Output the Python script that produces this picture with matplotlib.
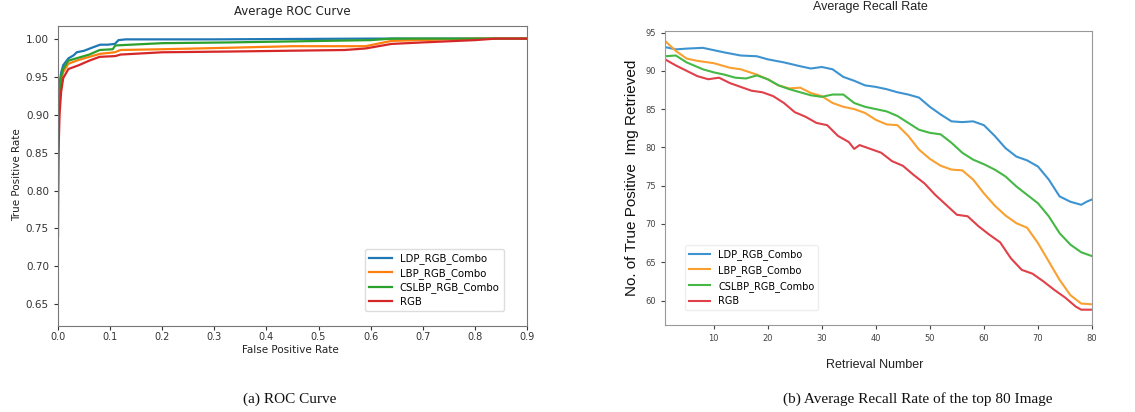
import matplotlib
matplotlib.use("Agg")
import matplotlib.pyplot as plt

# ---- ROC data ----
fpr_ldp = [0.0, 0.001, 0.003, 0.006, 0.01, 0.02, 0.03, 0.036, 0.05, 0.065, 0.081, 0.095, 0.109, 0.116, 0.13, 0.3, 0.6, 0.9]
tpr_ldp = [0.86, 0.91, 0.94, 0.955, 0.965, 0.974, 0.978, 0.982, 0.984, 0.988, 0.992, 0.992, 0.993, 0.998, 0.999, 0.999, 1.0, 1.0]

fpr_lbp = [0.0, 0.001, 0.003, 0.006, 0.01, 0.02, 0.04, 0.06, 0.081, 0.109, 0.12, 0.2, 0.33, 0.45, 0.59, 0.64, 0.8, 0.9]
tpr_lbp = [0.8, 0.88, 0.92, 0.945, 0.956, 0.967, 0.972, 0.976, 0.980, 0.982, 0.985, 0.986, 0.988, 0.990, 0.990, 0.997, 1.0, 1.0]

fpr_cslbp = [0.0, 0.001, 0.003, 0.006, 0.01, 0.02, 0.04, 0.06, 0.08, 0.105, 0.11, 0.2, 0.33, 0.6, 0.64, 0.9]
tpr_cslbp = [0.84, 0.9, 0.93, 0.95, 0.96, 0.971, 0.975, 0.979, 0.985, 0.986, 0.991, 0.994, 0.995, 0.998, 1.0, 1.0]

fpr_rgb = [0.0, 0.001, 0.003, 0.006, 0.01, 0.02, 0.04, 0.06, 0.08, 0.11, 0.12, 0.2, 0.33, 0.55, 0.59, 0.64, 0.7, 0.8, 0.84, 0.9]
tpr_rgb = [0.74, 0.85, 0.9, 0.93, 0.948, 0.96, 0.965, 0.971, 0.976, 0.977, 0.979, 0.982, 0.983, 0.985, 0.987, 0.993, 0.995, 0.998, 1.0, 1.0]

# ---- Recall data ----
n_ldp = [1, 3, 5, 8, 10, 12, 15, 18, 20, 23, 26, 28, 30, 32, 34, 36, 38, 40, 42, 44, 46, 48, 50, 52, 54,
         56, 58, 60, 62, 64, 66, 68, 70, 72, 74, 76, 78, 79, 80]
r_ldp = [93.1, 92.8, 92.9, 93.0, 92.7, 92.4, 92.0, 91.9, 91.5, 91.1, 90.6, 90.3, 90.5, 90.2, 89.2, 88.7,
         88.1, 87.9, 87.6, 87.2, 86.9, 86.5, 85.3, 84.3, 83.4, 83.3, 83.4, 82.9, 81.5, 79.9, 78.8, 78.3,
         77.5, 75.8, 73.6, 72.9, 72.5, 72.9, 73.2]

n_lbp = [1, 3, 5, 7, 10, 13, 15, 18, 20, 22, 24, 26, 28, 30, 32, 34, 36, 38, 40, 42, 44, 46, 48, 50, 52,
         54, 56, 58, 60, 62, 64, 66, 68, 70, 72, 74, 76, 78, 80]
r_lbp = [93.9, 92.6, 91.6, 91.3, 91.0, 90.4, 90.2, 89.5, 88.9, 88.1, 87.7, 87.8, 87.1, 86.7, 85.8, 85.3,
         85.0, 84.5, 83.6, 83.0, 82.9, 81.5, 79.7, 78.5, 77.6, 77.1, 77.0, 75.8, 74.0, 72.4, 71.1, 70.1,
         69.5, 67.5, 65.1, 62.7, 60.7, 59.6, 59.5]

n_cslbp = [1, 3, 5, 8, 10, 12, 14, 16, 18, 20, 22, 24, 26, 28, 30, 32, 34, 36, 38, 40, 42, 44, 46, 48, 50,
           52, 54, 56, 58, 60, 62, 64, 66, 68, 70, 72, 74, 76, 78, 80]
r_cslbp = [91.9, 92.0, 91.1, 90.2, 89.8, 89.5, 89.1, 89.0, 89.4, 88.9, 88.1, 87.6, 87.2, 86.8, 86.6, 86.9,
           86.9, 85.8, 85.3, 85.0, 84.7, 84.1, 83.2, 82.3, 81.9, 81.7, 80.6, 79.3, 78.4, 77.8, 77.1, 76.2,
           74.9, 73.8, 72.7, 71.0, 68.8, 67.3, 66.3, 65.8]

n_rgb = [1, 3, 5, 7, 9, 11, 13, 15, 17, 19, 21, 23, 25, 27, 29, 31, 33, 35, 36, 37, 39, 41, 43, 45, 47,
         49, 51, 53, 55, 57, 59, 61, 63, 65, 67, 69, 71, 73, 75, 77, 78, 80]
r_rgb = [91.5, 90.7, 90.0, 89.3, 88.9, 89.1, 88.4, 87.9, 87.4, 87.2, 86.7, 85.8, 84.6, 84.0, 83.2, 82.9,
         81.5, 80.7, 79.8, 80.3, 79.8, 79.3, 78.2, 77.6, 76.4, 75.3, 73.8, 72.5, 71.2, 71.0, 69.7, 68.6,
         67.6, 65.5, 64.0, 63.5, 62.5, 61.4, 60.4, 59.2, 58.8, 58.8]

labels = ['LDP_RGB_Combo', 'LBP_RGB_Combo', 'CSLBP_RGB_Combo', 'RGB']

W, H = 1135, 412
fig = plt.figure(figsize=(W / 100, H / 100), dpi=100)

def px(x, y):
    return x / W, 1 - y / H

# ---------- left: ROC ----------
ax1 = fig.add_axes([58 / W, 1 - 325.7 / H, 469 / W, 300 / H])
ax1.plot(fpr_ldp, tpr_ldp, color='#1f77b4', linewidth=1.6, label=labels[0])
ax1.plot(fpr_lbp, tpr_lbp, color='#ff7f0e', linewidth=1.6, label=labels[1])
ax1.plot(fpr_cslbp, tpr_cslbp, color='#2ca02c', linewidth=1.6, label=labels[2])
ax1.plot(fpr_rgb, tpr_rgb, color='#d62728', linewidth=1.6, label=labels[3])
ax1.set_xlim(0, 0.9)
ax1.set_ylim(0.622, 1.017)
ax1.set_xticks([0.0, 0.1, 0.2, 0.3, 0.4, 0.5, 0.6, 0.7, 0.8, 0.9])
ax1.set_yticks([0.65, 0.70, 0.75, 0.80, 0.85, 0.90, 0.95, 1.00])
ax1.tick_params(labelsize=7.5, colors='#333333', length=3)
ax1.tick_params(axis='x', labelsize=7, pad=1.5)
for s in ax1.spines.values():
    s.set_color('#777777')
ax1.legend(loc='lower right', bbox_to_anchor=(0.95, 0.05), fontsize=7.3, labelspacing=0.35,
           handlelength=2.2, borderaxespad=0.0, framealpha=1, edgecolor='#dddddd')
fig.text(*px(292, 12), 'Average ROC Curve', ha='center', va='center', fontsize=8.5, color='#222222')
fig.text(*px(17, 175), 'True Positive Rate', ha='center', va='center', rotation=90, fontsize=7.5, color='#222222')
fig.text(*px(290, 350), 'False Positive Rate', ha='center', va='center', fontsize=7.5, color='#222222')

# ---------- right: recall ----------
ax2 = fig.add_axes([665 / W, 1 - 325 / H, 427 / W, 294 / H])
ax2.plot(n_ldp, r_ldp, color='#3d93d0', linewidth=1.5, label=labels[0])
ax2.plot(n_lbp, r_lbp, color='#f9a030', linewidth=1.5, label=labels[1])
ax2.plot(n_cslbp, r_cslbp, color='#45b845', linewidth=1.5, label=labels[2])
ax2.plot(n_rgb, r_rgb, color='#e0404a', linewidth=1.5, label=labels[3])
ax2.set_xlim(1, 80)
ax2.set_ylim(56.8, 95.2)
ax2.set_xticks([10, 20, 30, 40, 50, 60, 70, 80])
ax2.set_yticks([60, 65, 70, 75, 80, 85, 90, 95])
ax2.tick_params(labelsize=6, colors='#444444', length=3)
for s in ax2.spines.values():
    s.set_color('#999999')
ax2.legend(loc='lower left', bbox_to_anchor=(0.047, 0.05), fontsize=7,
           handlelength=2.2, borderaxespad=0.0, framealpha=1, edgecolor='#eeeeee')
fig.text(*px(870, 7), 'Average Recall Rate', ha='center', va='center', fontsize=9,
         family='Liberation Sans', color='#222222')
fig.text(*px(632, 178), 'No. of True Positive  Img Retrieved', ha='center', va='center',
         rotation=90, fontsize=11, family='Liberation Sans', color='#111111')
fig.text(*px(875, 365), 'Retrieval Number', ha='center', va='center', fontsize=9,
         family='Liberation Sans', color='#222222')

# captions
fig.text(*px(290, 399), '(a) ROC Curve', ha='center', va='center', fontsize=11,
         family='Liberation Serif', color='#111111')
fig.text(*px(918, 399), '(b) Average Recall Rate of the top 80 Image', ha='center', va='center',
         fontsize=11, family='Liberation Serif', color='#111111')

fig.savefig('out.png', dpi=100)
